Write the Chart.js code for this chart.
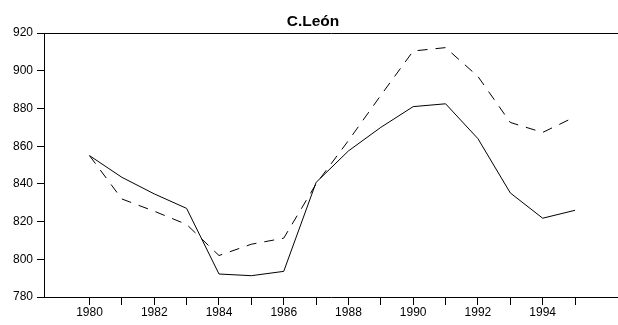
<!DOCTYPE html>
<html>
<head>
<meta charset="utf-8">
<script src="https://cdn.jsdelivr.net/npm/chart.js@4/dist/chart.umd.min.js"></script>
<style>
  html, body { margin: 0; padding: 0; background: #fff; }
  #wrap { width: 618px; height: 325px; }
</style>
</head>
<body>
<div id="wrap"><canvas id="c" width="618" height="325"></canvas></div>
<script>
// Annual series for Castilla y León, 1980-1995
const years = [1980, 1981, 1982, 1983, 1984, 1985, 1986, 1987, 1988, 1989, 1990, 1991, 1992, 1993, 1994, 1995];
const solidSeries = [855, 843.5, 834.7, 827, 792.2, 791.3, 793.6, 840.8, 857.5, 870, 881, 882.5, 864, 835.2, 821.8, 826];
const dashedSeries = [855, 832, 825.5, 818.5, 802, 808, 811.2, 840, 863, 887, 910.5, 912.3, 897, 872.6, 867.3, 875.6];
const xTickLabels = ['1980', '', '1982', '', '1984', '', '1986', '', '1988', '', '1990', '', '1992', '', '1994', ''];
const yTickValues = [780, 800, 820, 840, 860, 880, 900, 920];
const titleText = 'C.León';

const xMin = 1978.594, xMax = 1996.327;
const fontFamily = '"Liberation Sans", Arial, Helvetica, sans-serif';

const toPoints = vals => years.map((yr, i) => ({ x: yr, y: vals[i] }));

new Chart(document.getElementById('c'), {
  type: 'line',
  data: {
    datasets: [
      {
        data: toPoints(solidSeries),
        borderColor: '#000',
        borderWidth: 1,
        pointRadius: 0,
        tension: 0,
        fill: false
      },
      {
        data: toPoints(dashedSeries),
        borderColor: '#000',
        borderWidth: 1,
        borderDash: [10, 8],
        pointRadius: 0,
        tension: 0,
        fill: false
      }
    ]
  },
  options: {
    responsive: false,
    devicePixelRatio: 1,
    animation: false,
    layout: { padding: { left: 8, right: 0, top: 0, bottom: 0 } },
    plugins: {
      legend: { display: false },
      tooltip: { enabled: false },
      title: {
        display: true,
        text: titleText,
        color: '#000',
        font: { family: fontFamily, size: 15.5, weight: 'bold' },
        padding: { top: 12.5, bottom: 2 }
      }
    },
    scales: {
      x: {
        type: 'linear',
        position: 'bottom',
        min: xMin,
        max: xMax,
        afterBuildTicks: s => { s.ticks = years.map(v => ({ value: v })); },
        afterFit: s => { s.height = 28; s.paddingLeft = 0; s.paddingRight = 0; },
        ticks: {
          color: '#000',
          font: { family: fontFamily, size: 12 },
          padding: 0,
          maxRotation: 0,
          autoSkip: false,
          callback: (v, i) => xTickLabels[i]
        },
        grid: { display: true, drawOnChartArea: false, drawTicks: true, tickLength: 8, color: '#000', lineWidth: 1 },
        border: { display: true, color: '#000', width: 1 }
      },
      xTop: {
        type: 'linear',
        position: 'top',
        min: xMin,
        max: xMax,
        afterFit: s => { s.height = 0; },
        ticks: { display: false },
        grid: { display: false },
        border: { display: true, color: '#000', width: 1 }
      },
      y: {
        type: 'linear',
        min: 780,
        max: 920,
        afterBuildTicks: s => { s.ticks = yTickValues.map(v => ({ value: v })); },
        afterFit: s => { s.width = 36; },
        ticks: {
          color: '#000',
          font: { family: fontFamily, size: 12 },
          padding: 4,
          callback: v => String(v)
        },
        grid: { display: true, drawOnChartArea: false, drawTicks: true, tickLength: 7, color: '#000', lineWidth: 1 },
        border: { display: true, color: '#000', width: 1 }
      }
    }
  }
});
</script>
</body>
</html>
